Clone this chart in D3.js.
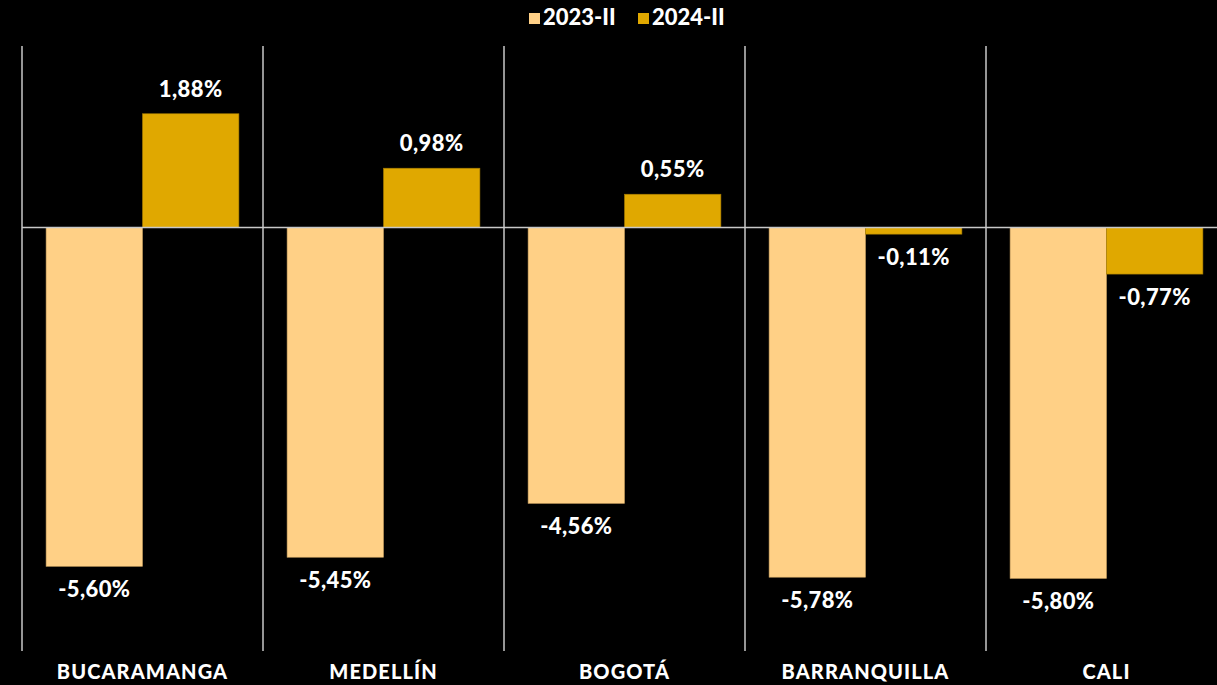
<!DOCTYPE html>
<html>
<head>
<meta charset="utf-8">
<script src="https://cdn.jsdelivr.net/npm/d3@7"></script>
<style>
  html, body { margin: 0; padding: 0; background: #000; }
  svg { display: block; }
  text { font-family: Lato, "Open Sans", sans-serif; font-weight: 700; fill: #fff; }
</style>
</head>
<body>
<svg id="chart" width="1217" height="685"></svg>
<script>
const categories = ["BUCARAMANGA", "MEDELLÍN", "BOGOTÁ", "BARRANQUILLA", "CALI"];
const seriesNames = ["2023-II", "2024-II"];
const values2023 = [-5.60, -5.45, -4.56, -5.78, -5.80];
const values2024 = [1.88, 0.98, 0.55, -0.11, -0.77];
const colors = ["#FFD086", "#E0A800"];

const W = 1217, H = 685;
const svg = d3.select("#chart");

const x = d3.scaleBand().domain(categories).range([22, 1227]).paddingInner(0).paddingOuter(0);
const x1 = d3.scaleBand().domain(seriesNames).range([x.bandwidth() * 0.1, x.bandwidth() * 0.9]);
const y = d3.scaleLinear().domain([-7, 3]).range([651, 46]);

const data = categories.map((c, i) => ({ cat: c, vals: [values2023[i], values2024[i]] }));
const fmt = v => d3.format(".2f")(v).replace("\u2212", "-").replace(".", ",") + "%";

// vertical separators
svg.append("g").selectAll("line").data(categories).join("line")
  .attr("x1", d => x(d)).attr("x2", d => x(d))
  .attr("y1", y(3)).attr("y2", y(-7))
  .attr("stroke", "#c8c8c8").attr("stroke-width", 1.5);

// bars
const groups = svg.append("g").selectAll("g").data(data).join("g")
  .attr("transform", d => `translate(${x(d.cat)},0)`);

groups.selectAll("rect").data(d => d.vals.map((v, j) => ({ s: seriesNames[j], v, j }))).join("rect")
  .attr("x", d => x1(d.s))
  .attr("width", x1.bandwidth())
  .attr("y", d => Math.min(y(d.v), y(0)))
  .attr("height", d => Math.abs(y(d.v) - y(0)))
  .attr("fill", d => colors[d.j])
  .attr("stroke", d => d.j === 0 ? "#c9a060" : "#a57c00")
  .attr("stroke-width", 0.6);

// zero line
svg.append("line")
  .attr("x1", x.range()[0]).attr("x2", W)
  .attr("y1", y(0)).attr("y2", y(0))
  .attr("stroke", "#c8c8c8").attr("stroke-width", 1.5);

// value labels
groups.selectAll("text.val").data(d => d.vals.map((v, j) => ({ s: seriesNames[j], v, j }))).join("text")
  .attr("class", "val")
  .attr("x", d => x1(d.s) + x1.bandwidth() / 2)
  .attr("y", d => d.v >= 0 ? y(d.v) - 17 : y(d.v) + 31)
  .attr("text-anchor", "middle")
  .attr("font-size", 22)
  .style("font-weight", 900)
  .style("letter-spacing", "0.4px")
  .text(d => fmt(d.v));

// category labels
svg.append("g").selectAll("text").data(categories).join("text")
  .attr("x", d => x(d) + x.bandwidth() / 2)
  .attr("y", 679)
  .attr("text-anchor", "middle")
  .attr("font-size", 20)
  .style("font-weight", 900)
  .style("letter-spacing", "1.1px")
  .text(d => d);

// legend
const legend = svg.append("g");
const legX = [529, 638];
seriesNames.forEach((s, i) => {
  legend.append("rect").attr("x", legX[i]).attr("y", 13).attr("width", 11).attr("height", 11).attr("fill", colors[i]);
  legend.append("text").attr("x", legX[i] + 14).attr("y", 25).attr("font-size", 22).style("font-weight", 900).text(s);
});
</script>
</body>
</html>
